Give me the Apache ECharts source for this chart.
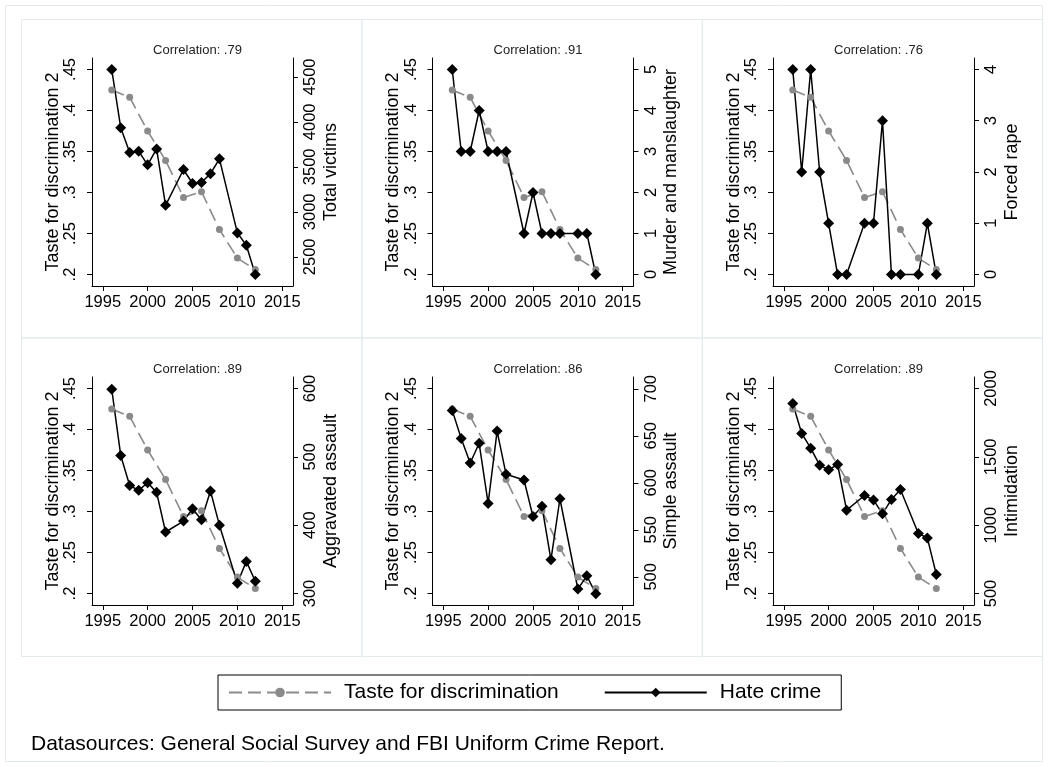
<!DOCTYPE html>
<html>
<head>
<meta charset="utf-8">
<script src="https://cdn.jsdelivr.net/npm/echarts@6/dist/echarts.min.js"></script>
<style>
html, body { margin: 0; padding: 0; background: #fff; }
#chart { width: 1048px; height: 767px; }
</style>
</head>
<body>
<div id="chart"></div>
<script>
// GSS taste for discrimination (every 2 years)
var tasteYears = [1996, 1998, 2000, 2002, 2004, 2006, 2008, 2010, 2012];
var tasteValues = [0.425, 0.416, 0.375, 0.339, 0.294, 0.301, 0.255, 0.220, 0.206];

// FBI hate crime counts
var crimeYears = [1996, 1997, 1998, 1999, 2000, 2001, 2002, 2004, 2005, 2006, 2007, 2008, 2010, 2011, 2012];
var totalVictims = [4581, 3935, 3659, 3674, 3522, 3699, 3072, 3470, 3315, 3327, 3423, 3589, 2766, 2629, 2304];
var murder = [5, 3, 3, 4, 3, 3, 3, 1, 2, 1, 1, 1, 1, 1, 0];
var forcedRape = [4, 2, 4, 2, 1, 0, 0, 1, 1, 3, 0, 0, 0, 1, 0];
var aggravated = [599, 502, 458, 451, 462, 448, 390, 406, 424, 408, 450, 400, 315, 347, 318];
var simpleAssault = [677, 647, 621, 642, 578, 655, 609, 603, 564, 575, 518, 583, 487, 501, 482];
var intimidation = [1890, 1671, 1563, 1439, 1405, 1444, 1110, 1217, 1185, 1083, 1188, 1261, 939, 907, 639];

var crimeNames = ['Total victims', 'Murder and manslaughter', 'Forced rape',
                  'Aggravated assault', 'Simple assault', 'Intimidation'];
var panelTitles = ['Correlation: .79', 'Correlation: .91', 'Correlation: .76',
                   'Correlation: .89', 'Correlation: .86', 'Correlation: .89'];

var yearTicks = [1995, 2000, 2005, 2010, 2015];
var tasteTicks = [0.2, 0.25, 0.3, 0.35, 0.4, 0.45];
var crimeTicks = [
    [2500, 3000, 3500, 4000, 4500],
    [0, 1, 2, 3, 4, 5],
    [0, 1, 2, 3, 4],
    [300, 400, 500, 600],
    [500, 550, 600, 650, 700],
    [500, 1000, 1500, 2000]
];
// right axis ranges (with Stata style padding)
var crimeRanges = [[2176, 4709], [-0.28, 5.28], [-0.224, 4.224], [283.2, 616.8], [470, 712.5], [416, 2084]];

var crimeSeries = [totalVictims, murder, forcedRape, aggravated, simpleAssault, intimidation];

var font = '"Liberation Sans", Arial, Helvetica, sans-serif';
var colLeft = [92, 432.5, 773];
var rowTop = [58, 377];
var plotW = 201, plotH = 228;

function pairs(xs, ys) {
    return xs.map(function (x, i) { return [x, ys[i]]; });
}

function tasteLabel(v) {
    return String(+v.toFixed(2)).replace(/^0\./, '.');
}

var grids = [], xAxes = [], yAxes = [], series = [], titles = [], boxes = [];

for (var k = 0; k < 6; k++) {
    var c = k % 3, r = Math.floor(k / 3);
    grids.push({ left: colLeft[c], top: rowTop[r], width: plotW, height: plotH, outerBoundsMode: 'none' });

    titles.push({
        text: panelTitles[k],
        left: colLeft[c] + plotW / 2,
        top: rowTop[r] - 19,
        textAlign: 'center',
        textStyle: { fontSize: 13, fontWeight: 'normal', color: '#222', fontFamily: font }
    });

    xAxes.push({
        type: 'value', gridIndex: k, min: 1993.8, max: 2016.2,
        axisLine: { show: true, onZero: false, lineStyle: { color: '#000', width: 1 } },
        axisTick: { show: true, length: 5, customValues: yearTicks, lineStyle: { color: '#000' } },
        axisLabel: {
            customValues: yearTicks, fontSize: 16.5, margin: 8, color: '#000', fontFamily: font,
            hideOverlap: false,
            formatter: function (v) { return String(v); }
        },
        splitLine: { show: false }
    });

    yAxes.push({
        type: 'value', gridIndex: k, position: 'left', min: 0.186, max: 0.464,
        name: 'Taste for discrimination 2', nameLocation: 'middle', nameGap: 30, nameRotate: 90,
        nameMoveOverlap: false,
        nameTextStyle: { fontSize: 18, color: '#000', fontFamily: font },
        axisLine: { show: true, onZero: false, lineStyle: { color: '#000', width: 1 } },
        axisTick: { show: true, length: 5, customValues: tasteTicks, lineStyle: { color: '#000' } },
        axisLabel: {
            customValues: tasteTicks, rotate: 90, margin: 13, fontSize: 16.5, color: '#000',
            fontFamily: font, hideOverlap: false, formatter: tasteLabel
        },
        splitLine: { show: false }
    });

    yAxes.push({
        type: 'value', gridIndex: k, position: 'right', min: crimeRanges[k][0], max: crimeRanges[k][1],
        name: crimeNames[k], nameLocation: 'middle', nameGap: 29, nameRotate: 90,
        nameMoveOverlap: false,
        nameTextStyle: { fontSize: 18, color: '#000', fontFamily: font },
        axisLine: { show: true, onZero: false, lineStyle: { color: '#000', width: 1 } },
        axisTick: { show: true, length: 5, customValues: crimeTicks[k], lineStyle: { color: '#000' } },
        axisLabel: {
            customValues: crimeTicks[k], rotate: 90, margin: 9, fontSize: 16.5, color: '#000',
            fontFamily: font, hideOverlap: false,
            formatter: function (v) { return String(Math.round(v)); }
        },
        splitLine: { show: false }
    });

    series.push({
        type: 'line', name: 'Taste for discrimination',
        xAxisIndex: k, yAxisIndex: 2 * k,
        data: pairs(tasteYears, tasteValues),
        symbol: 'circle', symbolSize: 7,
        itemStyle: { color: '#8a8a8a' },
        lineStyle: { color: '#8a8a8a', width: 1.6, type: [13, 6] }
    });
    series.push({
        type: 'line', name: 'Hate crime',
        xAxisIndex: k, yAxisIndex: 2 * k + 1,
        data: pairs(crimeYears, crimeSeries[k]),
        symbol: 'diamond', symbolSize: 11,
        itemStyle: { color: '#000' },
        lineStyle: { color: '#000', width: 1.5 }
    });

    boxes.push({
        type: 'rect',
        shape: { x: 21.5 + c * 340.4, y: 19.5 + r * 318.5, width: 340.4, height: 318.5 },
        style: { fill: 'none', stroke: '#e3eaed', lineWidth: 1 },
        silent: true
    });
}

boxes.push({
    type: 'rect',
    shape: { x: 5.5, y: 5.5, width: 1037, height: 756 },
    style: { fill: 'none', stroke: '#e3eaed', lineWidth: 1 },
    silent: true
});

titles.push({
    text: 'Datasources: General Social Survey and FBI Uniform Crime Report.',
    left: 26, top: 729,
    textStyle: { fontSize: 21, fontWeight: 'normal', color: '#000', fontFamily: font }
});

var myChart = echarts.init(document.getElementById('chart'), null, { renderer: 'canvas' });

var option = {
    backgroundColor: '#fff',
    animation: false,
    title: titles,
    graphic: boxes,
    legend: {
        data: ['Taste for discrimination', 'Hate crime'],
        left: 218, top: 675,
        orient: 'horizontal',
        borderColor: '#000', borderWidth: 1,
        padding: [7, 20, 7, 10],
        itemGap: 45, itemWidth: 102, itemHeight: 12,
        textStyle: { fontSize: 21, color: '#000', fontFamily: font, padding: [0, 0, 0, 8] }
    },
    grid: grids,
    xAxis: xAxes,
    yAxis: yAxes,
    series: series
};

myChart.setOption(option);
</script>
</body>
</html>
